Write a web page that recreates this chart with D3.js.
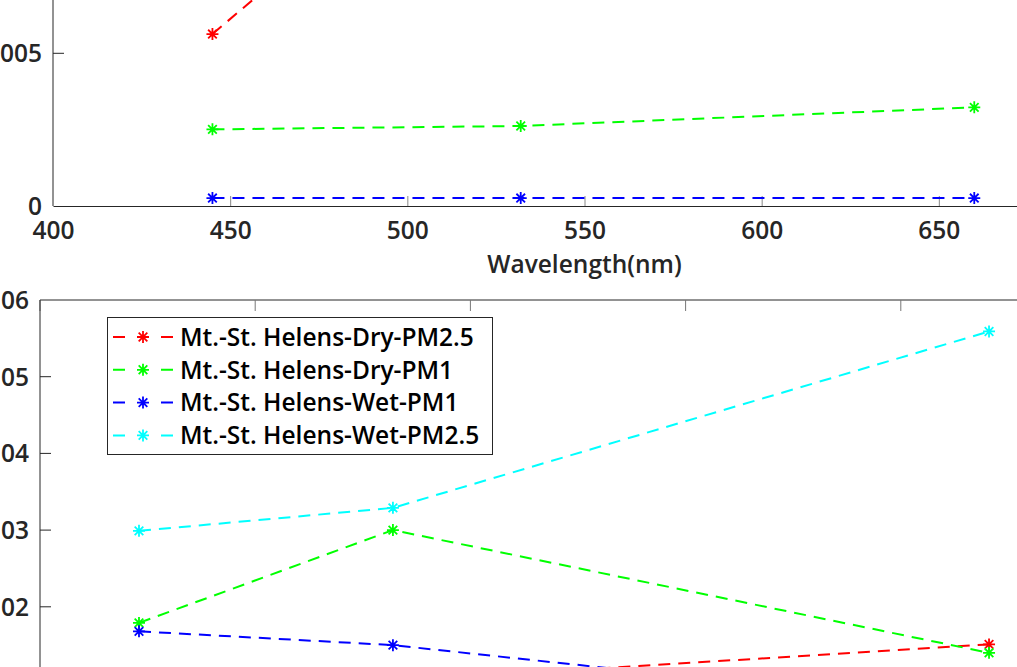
<!DOCTYPE html>
<html>
<head>
<meta charset="utf-8">
<script src="https://cdn.jsdelivr.net/npm/d3@7"></script>
<style>
  body { margin: 0; background: #fff; }
  svg { display: block; font-family: "Open Sans", "Noto Sans", sans-serif; }
</style>
</head>
<body>
<div id="chart"></div>
<script>
// series names (legend order = draw order)
var seriesNames = ['Mt.-St. Helens-Dry-PM2.5', 'Mt.-St. Helens-Dry-PM1',
  'Mt.-St. Helens-Wet-PM1', 'Mt.-St. Helens-Wet-PM2.5'];
var seriesColors = ['#ff0000', '#00ff00', '#0000ff', '#00ffff'];

// upper panel
var topWavelength = [445, 532, 660];
var topDryPM25 = [0.00563, 0.0142, 0.0125];
var topDryPM1 = [0.00251, 0.00262, 0.00323];
var topWetPM1 = [0.00026, 0.00026, 0.00026];
var topWetPM25 = [0.0085, 0.0095, 0.011];
var topXTicks = [400, 450, 500, 550, 600, 650, 700];
var topYTicks = [0, 0.005, 0.01, 0.015];

// lower panel
var botWavelength = [446, 564, 841];
var botDryPM25 = [0.009, 0.0103, 0.0151];
var botDryPM1 = [0.0179, 0.0300, 0.0140];
var botWetPM1 = [0.0168, 0.0150, 0.0067];
var botWetPM25 = [0.0299, 0.0329, 0.0559];
var botXTicks = [400, 500, 600, 700, 800, 900];
var botYTicks = [0, 0.01, 0.02, 0.03, 0.04, 0.05, 0.06];

var W = 1017, H = 667;
var axisColor = '#262626';
var fontSize = "24.5px";
var fontWeight = 600;

var svg = d3.select("#chart")
  .append("svg")
  .attr("width", W)
  .attr("height", H);

function fmt(v) {
  // MATLAB style labels: 0, 0.005, 0.01 ...
  return v === 0 ? "0" : String(+v.toPrecision(6));
}

function asterisk(sel, color) {
  var r = 6, k = r * 0.72;
  sel.append("path")
    .attr("d", "M" + (-r) + ",0H" + r + "M0," + (-r) + "V" + r +
      "M" + (-k) + "," + (-k) + "L" + k + "," + k +
      "M" + (-k) + "," + k + "L" + k + "," + (-k))
    .attr("stroke", color)
    .attr("stroke-width", 1.8)
    .attr("fill", "none");
}

function drawSeries(g, x, y, wl, lists) {
  var line = d3.line()
    .x(function (d) { return x(d.w); })
    .y(function (d) { return y(d.v); });

  lists.forEach(function (vals, i) {
    var pts = wl.map(function (w, j) { return { w: w, v: vals[j] }; });
    g.append("path")
      .datum(pts)
      .attr("d", line)
      .attr("fill", "none")
      .attr("stroke", seriesColors[i])
      .attr("stroke-width", 2)
      .attr("stroke-dasharray", "12,8");

    g.selectAll(".m" + i)
      .data(pts).enter()
      .append("g")
      .attr("class", "m" + i)
      .attr("transform", function (d) { return "translate(" + x(d.w) + "," + y(d.v) + ")"; })
      .each(function () { asterisk(d3.select(this), seriesColors[i]); });
  });
}

function styleAxis(g) {
  g.select(".domain").attr("stroke", axisColor);
  g.selectAll(".tick line").attr("stroke", axisColor);
  g.selectAll(".tick text")
    .attr("fill", axisColor)
    .style("font-size", fontSize)
    .style("font-weight", fontWeight)
    .style("font-family", '"Open Sans", "Noto Sans", sans-serif');
}

// ---------- upper panel ----------
var upper = { left: 53, right: 1116, bottom: 206 };
var xTop = d3.scaleLinear().domain([400, 700]).range([upper.left, upper.right]);
var yTop = d3.scaleLinear().domain([0, 0.015]).range([upper.bottom, upper.bottom - 3 * 152.7]);

var gTop = svg.append("g");

gTop.append("g")
  .attr("transform", "translate(0," + upper.bottom + ")")
  .call(d3.axisBottom(xTop).tickValues(topXTicks).tickSize(-10).tickSizeOuter(0).tickPadding(16)
    .tickFormat(function (d) { return d; }))
  .call(styleAxis)
  .call(function (g) {
    g.selectAll(".tick line").attr("stroke", "#888");
    g.selectAll(".tick").filter(function (d) { return d === 400; }).select("line").remove();
  });

gTop.append("g")
  .attr("transform", "translate(" + upper.left + ",0)")
  .call(d3.axisLeft(yTop).tickValues(topYTicks).tickSize(-11).tickSizeOuter(0).tickPadding(11)
    .tickFormat(fmt).offset(0))
  .call(styleAxis)
  .call(function (g) {
    g.selectAll(".tick text").attr("dy", "0.36em");
    g.selectAll(".tick").filter(function (d) { return d === 0; }).select("line").remove();
  });

gTop.append("text")
  .attr("x", (upper.left + upper.right) / 2)
  .attr("y", 273)
  .attr("text-anchor", "middle")
  .attr("fill", axisColor)
  .style("font-size", fontSize)
  .style("font-weight", fontWeight)
  .text("Wavelength(nm)");

drawSeries(gTop, xTop, yTop, topWavelength, [topDryPM25, topDryPM1, topWetPM1, topWetPM25]);

// ---------- lower panel ----------
var lower = { left: 40, right: 1116, top: 300 };
var xBot = d3.scaleLinear().domain([400, 900]).range([lower.left, lower.right]);
var yBot = d3.scaleLinear().domain([0, 0.06]).range([lower.top + 6 * 76.7, lower.top]);

var gBot = svg.append("g");

gBot.append("g")
  .attr("transform", "translate(0," + lower.top + ")")
  .call(d3.axisTop(xBot).tickValues(botXTicks).tickSize(-11).tickSizeOuter(0)
    .tickFormat("").offset(0))
  .call(styleAxis)
  .call(function (g) { g.selectAll(".tick line").attr("stroke", "#777"); });

gBot.append("g")
  .attr("transform", "translate(" + lower.left + ",0)")
  .call(d3.axisLeft(yBot).tickValues(botYTicks).tickSize(-11).tickSizeOuter(0).tickPadding(11)
    .tickFormat(fmt).offset(0))
  .call(styleAxis)
  .call(function (g) {
    g.selectAll(".tick text").attr("dy", "0.36em");
    g.selectAll(".tick").filter(function (d) { return d === 0.06; }).select("line").remove();
  });

drawSeries(gBot, xBot, yBot, botWavelength, [botDryPM25, botDryPM1, botWetPM1, botWetPM25]);

// ---------- legend ----------
var leg = svg.append("g").attr("transform", "translate(107,317)");
leg.append("rect")
  .attr("x", 0.5).attr("y", 0.5)
  .attr("width", 385).attr("height", 137)
  .attr("fill", "#fff")
  .attr("stroke", axisColor)
  .attr("stroke-width", 1);

seriesNames.forEach(function (name, i) {
  var cy = 20 + i * 32.8;
  leg.append("line")
    .attr("x1", 6).attr("x2", 66)
    .attr("y1", cy).attr("y2", cy)
    .attr("stroke", seriesColors[i])
    .attr("stroke-width", 2)
    .attr("stroke-dasharray", "12,36");
  asterisk(leg.append("g").attr("transform", "translate(36," + cy + ")"), seriesColors[i]);
  leg.append("text")
    .attr("x", 73)
    .attr("y", cy)
    .attr("dy", "0.36em")
    .attr("fill", "#000")
    .style("font-size", fontSize)
    .style("font-weight", fontWeight)
    .text(name);
});
</script>
</body>
</html>
